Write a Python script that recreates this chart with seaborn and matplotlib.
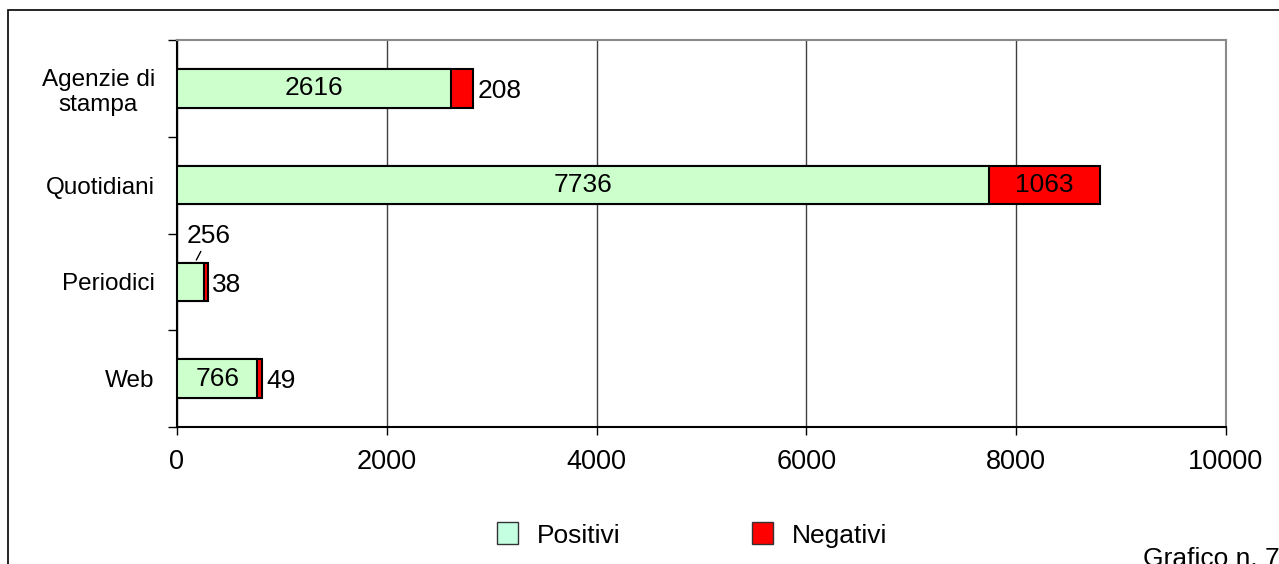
import matplotlib
matplotlib.use("Agg")
import matplotlib.pyplot as plt
import seaborn as sns
import pandas as pd
from matplotlib.patches import Rectangle, Patch

# Dati del grafico
categories = ["Agenzie di\nstampa", "Quotidiani", "Periodici", "Web"]
positivi = [2616, 7736, 256, 766]
negativi = [208, 1063, 38, 49]
xticks = [0, 2000, 4000, 6000, 8000, 10000]
series_labels = ["Positivi", "Negativi"]
footer = "Grafico n. 7"

sns.set_theme(style="white")
plt.rcParams["font.family"] = ["Liberation Sans", "DejaVu Sans"]
plt.rcParams["text.color"] = "black"
plt.rcParams["xtick.color"] = "black"
plt.rcParams["ytick.color"] = "black"
plt.rcParams["xtick.labelcolor"] = "black"
plt.rcParams["ytick.labelcolor"] = "black"

df = pd.DataFrame({"categoria": categories, "Positivi": positivi, "Negativi": negativi})
df["Totale"] = df["Positivi"] + df["Negativi"]

W, H = 1279, 564
fig = plt.figure(figsize=(W / 100, H / 100), dpi=100)
ax = fig.add_axes([177 / W, 1 - 427 / H, (1226 - 177) / W, (427 - 40) / H])

green = "#CCFFCC"
red = "#FF0000"
bar_w = 0.4

# Barre impilate: totale in rosso, parte positiva in verde sopra
sns.barplot(data=df, y="categoria", x="Totale", orient="h", color=red, width=bar_w,
            edgecolor="black", linewidth=1.5, saturation=1, ax=ax, zorder=3)
sns.barplot(data=df, y="categoria", x="Positivi", orient="h", color=green, width=bar_w,
            edgecolor="black", linewidth=1.5, saturation=1, ax=ax, zorder=3)

ax.set_xlabel("")
ax.set_ylabel("")
ax.set_xlim(xticks[0], xticks[-1])
n = len(categories)
ax.set_ylim(n - 0.5, -0.5)

# Asse x
ax.set_xticks(xticks)
ax.set_xticklabels([str(t) for t in xticks], fontsize=19.5)
ax.tick_params(axis="x", which="major", direction="out", length=6, width=1,
               color="black", pad=10, bottom=True)

# Asse y: tacche ai confini, etichette al centro
ax.set_yticks([i - 0.5 for i in range(n + 1)])
ax.set_yticklabels([])
ax.set_yticks(list(range(n)), minor=True)
ax.set_yticklabels(categories, minor=True, fontsize=17.5)
ax.tick_params(axis="y", which="major", direction="out", length=6.5, width=1,
               color="black", left=True)
ax.tick_params(axis="y", which="minor", length=0, pad=16)
for lab in ax.get_yticklabels(minor=True):
    lab.set_multialignment("center")
    lab.set_linespacing(1.2)

ax.xaxis.grid(True, color="#404040", linewidth=1, zorder=0)
ax.yaxis.grid(False)
ax.set_axisbelow(True)

for side in ("left", "bottom"):
    ax.spines[side].set_color("black")
    ax.spines[side].set_linewidth(1.5)
for side in ("top", "right"):
    ax.spines[side].set_color("#8a8a8a")
    ax.spines[side].set_linewidth(1.5)

# Etichette dei valori
fs = 19
for i, (p, q) in enumerate(zip(positivi, negativi)):
    if p >= 500:
        ax.text(p / 2, i, str(p), ha="center", va="center", fontsize=fs, zorder=5)
    else:
        ax.annotate(str(p), xy=(p * 0.67, i - bar_w / 2), xytext=(10, 19),
                    textcoords="offset points", ha="center", va="center", fontsize=fs,
                    arrowprops=dict(arrowstyle="-", color="black", lw=1,
                                    shrinkA=0, shrinkB=2), zorder=5)
    if q >= 500:
        ax.text(p + q / 2, i, str(q), ha="center", va="center", fontsize=fs, zorder=5)
    else:
        ax.annotate(str(q), xy=(p + q, i), xytext=(3, -2), textcoords="offset points",
                    ha="left", va="center", fontsize=fs, zorder=5)

# Legenda
handles = [Patch(facecolor="#C4FFE2", edgecolor="#333333", linewidth=1),
           Patch(facecolor=red, edgecolor="#333333", linewidth=1)]
fig.legend(handles, series_labels, loc="center", bbox_to_anchor=(692 / W, 1 - 535 / H),
           ncol=2, frameon=False, fontsize=19, handlelength=0.8, handleheight=0.9,
           handletextpad=0.7, columnspacing=5.0)

# Cornice esterna e didascalia
fig.patches.append(Rectangle((8 / W, -0.2), 2, 1 - 10 / H + 0.2, transform=fig.transFigure,
                             fill=False, edgecolor="black", linewidth=1.2, clip_on=False))
fig.text(1143 / W, 1 - 566 / H, footer, fontsize=19, ha="left", va="baseline")

fig.savefig("out.png", dpi=100)
